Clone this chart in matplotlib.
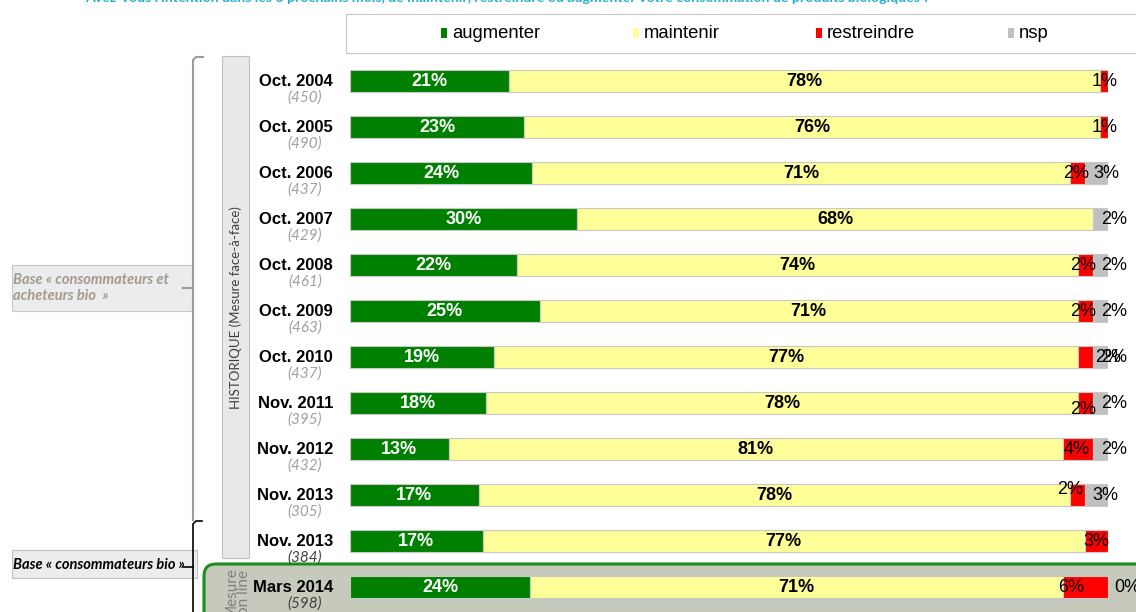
import numpy as np
import matplotlib
matplotlib.use('Agg')
import matplotlib.pyplot as plt
from matplotlib.patches import Rectangle, FancyBboxPatch
from matplotlib.lines import Line2D
from matplotlib.transforms import Affine2D, blended_transform_factory

W, H = 1136, 612

# --- data -----------------------------------------------------------------
periods = ['Oct. 2004', 'Oct. 2005', 'Oct. 2006', 'Oct. 2007', 'Oct. 2008',
           'Oct. 2009', 'Oct. 2010', 'Nov. 2011', 'Nov. 2012', 'Nov. 2013',
           'Nov. 2013', 'Mars 2014']
bases = ['(450)', '(490)', '(437)', '(429)', '(461)', '(463)', '(437)',
         '(395)', '(432)', '(305)', '(384)', '(598)']
augmenter = [21, 23, 24, 30, 22, 25, 19, 18, 13, 17, 17, 24]
maintenir = [78, 76, 71, 68, 74, 71, 77, 78, 81, 78, 77, 71]
restreindre = [1, 1, 2, 0, 2, 2, 2, 2, 4, 2, 3, 6]
nsp = [0, 0, 3, 2, 2, 2, 2, 2, 2, 3, 0, 0]
series = ['augmenter', 'maintenir', 'restreindre', 'nsp']
colors = ['#008000', '#FFFF99', '#FF0000', '#C0C0C0']

title = ("Avez-vous l'intention dans les 6 prochains mois, de maintenir, "
         "restreindre ou augmenter votre consommation de produits biologiques ?")

# manual label nudges (pixels), None = label hidden
red_dx = [0, 0, -2, None, -2, -2, 23, -2, -1, -8, 0, -14]
red_dy = [0, 0, 0, 0, 0, 0, 0, -6, 0, 6, 0, 0]
nsp_dx = [None, None, -2, 6, 6, 6, 6, 6, 6, -3, None, 19]

fig = plt.figure(figsize=(W / 100, H / 100), dpi=100)
px = Affine2D().scale(1, -1).translate(0, H)   # image pixel coords (y down)

# --- bars -----------------------------------------------------------------
ax = fig.add_axes([350 / W, 1 - 610 / H, 758 / W, 552 / H])
ax.patch.set_visible(False)
ax.axis('off')
ax.set_xlim(0, 100)
ax.set_ylim(len(periods) - 0.5, -0.5)

vals = np.array([augmenter, maintenir, restreindre, nsp], dtype=float)
share = vals / vals.sum(axis=0) * 100
y = np.arange(len(periods))
left = np.zeros(len(periods))
for k, name in enumerate(series):
    ax.barh(y, share[k], left=left, height=0.48, color=colors[k],
            edgecolor='#c8c8c8', linewidth=0.8, zorder=2)
    for i in range(len(periods)):
        v = int(vals[k, i])
        cx = left[i] + share[k, i] / 2
        if k == 0:
            ax.text(cx, i, f'{v}%', ha='center', va='center', color='white',
                    fontsize=13, fontweight='bold', family='Liberation Sans', zorder=3)
        elif k == 1:
            ax.text(cx, i, f'{v}%', ha='center', va='center', color='black',
                    fontsize=13, fontweight='bold', family='Liberation Sans', zorder=3)
        elif k == 2 and red_dx[i] is not None:
            ax.annotate(f'{v}%', (cx, i), xytext=(red_dx[i], red_dy[i]),
                        textcoords='offset pixels', ha='center', va='center',
                        fontsize=13, family='Liberation Sans', zorder=3)
        elif k == 3 and nsp_dx[i] is not None:
            ax.annotate(f'{v}%', (left[i] + share[k, i], i), xytext=(nsp_dx[i], 0),
                        textcoords='offset pixels', ha='center', va='center',
                        fontsize=13, family='Liberation Sans', zorder=3,
                        annotation_clip=False)
    left += share[k]

# row labels
tr = blended_transform_factory(px, ax.transData)
for i, (p, b) in enumerate(zip(periods, bases)):
    ax.annotate(p, (333, i), xycoords=tr, ha='right', va='center',
                fontsize=12, fontweight='bold', family='Liberation Sans')
    bcol = '#404040' if i >= 10 else '#a0a0a0'
    ax.annotate(b, (305, i), xycoords=tr, xytext=(0, -17), textcoords='offset pixels',
                ha='center', va='center', fontsize=11, style='italic',
                color=bcol, family='Lato')

# --- decorations ------------------------------------------------------------
def rect(x0, y0, x1, y1, **kw):
    fig.add_artist(Rectangle((x0, y1), x1 - x0, y0 - y1, transform=px, **kw))

def line(xs, ys, **kw):
    fig.add_artist(Line2D(xs, ys, transform=px, **kw))

# title (cut off at top edge)
fig.text(85, 1.5, title, transform=px, ha='left', va='baseline', fontsize=10.2,
         fontweight='bold', color='#2AAECB', family='Lato')

# legend
rect(346, 14, 1145, 53, facecolor='white', edgecolor='#c8c8c8', linewidth=0.8)
leg_x = [441, 633, 816, 1008]
for lx, name, c in zip(leg_x, series, colors):
    rect(lx, 28, lx + 6, 38, facecolor=c, edgecolor='none')
    fig.text(lx + 11, 33, name, transform=px, ha='left', va='center',
             fontsize=13.3, family='Liberation Sans')

# historique column
rect(222, 56, 249, 558, facecolor='#e8e8e8', edgecolor='#c0c0c0', linewidth=0.8)
fig.text(236, 308, 'HISTORIQUE (Mesure face-à-face)', transform=px, rotation=90,
         ha='center', va='center', fontsize=9.5, color='#404040', family='Lato')

# online box
fig.add_artist(FancyBboxPatch((204, 564), 1000, 80, transform=px,
                              boxstyle='round,pad=0,rounding_size=12',
                              facecolor='#C5CABD', edgecolor='#1E8C1E',
                              linewidth=2.2, zorder=-1))
fig.text(238, 567, 'Mesure\non line', transform=px, rotation=90, ha='center',
         va='top', fontsize=11, color='#808080', family='Lato', linespacing=0.85)

# brackets
tan = '#a09a90'
line([203, 196, 193, 193], [57, 57, 60, 520], color=tan, linewidth=1.5)
line([183, 193], [288, 288], color=tan, linewidth=1.5)
line([202, 196, 193, 193], [521, 521, 524, 615], color='black', linewidth=1.2)
line([183, 193], [567, 567], color='black', linewidth=1.2)

rect(12, 265, 192, 311, facecolor='#ececec', edgecolor='#c8c8c8', linewidth=0.8)
fig.text(13, 288, 'Base « consommateurs et\nacheteurs bio  »', transform=px,
         ha='left', va='center', fontsize=10.5, style='italic', fontweight='bold',
         color=tan, family='Lato', linespacing=1.25)
rect(12, 550, 197, 578, facecolor='#ececec', edgecolor='#c0c0c0', linewidth=0.8)
fig.text(13, 565, 'Base « consommateurs bio »', transform=px, ha='left',
         va='center', fontsize=10.5, style='italic', fontweight='bold',
         color='black', family='Lato')

fig.savefig('out.png', dpi=100)
